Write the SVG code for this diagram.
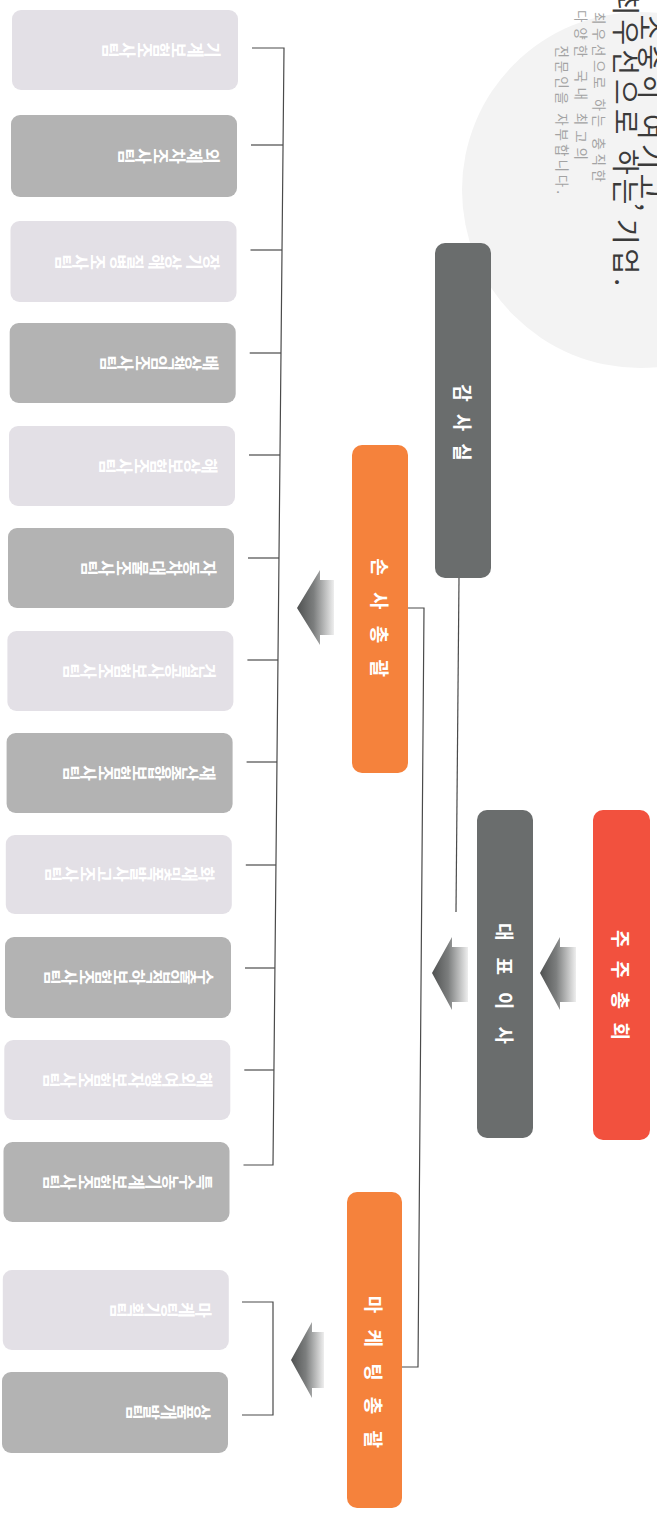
<svg xmlns="http://www.w3.org/2000/svg" width="657" height="1514" viewBox="0 0 657 1514">
<defs>
<linearGradient id="arr" x1="0" y1="0" x2="1" y2="0">
<stop offset="0" stop-color="#4f5151"/>
<stop offset="0.45" stop-color="#7c7e7e"/>
<stop offset="1" stop-color="#eeeeee"/>
</linearGradient>
<style>
text{font-family:"Noto Sans CJK KR","Noto Sans",sans-serif}
.lL{fill:#e3e0e6}
.lD{fill:#b3b3b3}
.lt{font-size:17px;font-weight:700;fill:#ffffff;writing-mode:vertical-rl}
.mt{font-size:19px;font-weight:700;fill:#ffffff}
.ln{stroke:#4a4a4a;stroke-width:1.2;fill:none}
.big{font-size:28px;fill:#3a3a3a;letter-spacing:4px}
.sm{font-size:13.5px;fill:#a3a3a3}
</style>
</defs>
<rect width="657" height="1514" fill="#ffffff"/>
<circle cx="640" cy="190" r="178" fill="#f3f3f3"/>
<g id="headline">
<text class="big" text-anchor="end" dominant-baseline="central" transform="translate(652,215) rotate(90)">사람을 소중히 여기고,</text>
<text class="big" text-anchor="end" dominant-baseline="central" transform="translate(627,290) rotate(90)">고객을 최우선으로 하는 기업.</text>
<text class="sm" dominant-baseline="central" textLength="170" lengthAdjust="spacing" transform="translate(600,12) rotate(90)">최우선으로 하는 충직한</text>
<text class="sm" dominant-baseline="central" textLength="150" lengthAdjust="spacing" transform="translate(582,10) rotate(90)">다양한 국내 최고의</text>
<text class="sm" text-anchor="end" dominant-baseline="central" letter-spacing="3" transform="translate(563,197) rotate(90)">전문인을 자부합니다.</text>
</g>
<g id="connectors">
<path class="ln" d="M252,48 H284 L273,1165 H243.5"/>
<path class="ln" d="M251,145 H283"/>
<path class="ln" d="M250.5,250 H282"/>
<path class="ln" d="M249.7,353 H281"/>
<path class="ln" d="M249,455 H280"/>
<path class="ln" d="M248,558 H279"/>
<path class="ln" d="M247.4,660 H278"/>
<path class="ln" d="M246.6,762 H277"/>
<path class="ln" d="M245.8,865 H275.9"/>
<path class="ln" d="M245,968 H274.9"/>
<path class="ln" d="M244.3,1070 H273.9"/>
<path class="ln" d="M242,1302 H273 V1415 H242"/>
<path class="ln" d="M408,608 H424 L418,1367 H402"/>
<path class="ln" d="M459,578 L456,912"/>
<polygon fill="url(#arr)" points="297,608 320,570 320,580 334,580 334,635 320,635 320,645"/>
<polygon fill="url(#arr)" points="432,973 452,937 452,947 468,947 468,1002 452,1002 452,1010"/>
<polygon fill="url(#arr)" points="540,973 560,937 560,947 576,947 576,1002 560,1002 560,1010"/>
<polygon fill="url(#arr)" points="291,1360 312,1322 312,1332 324,1332 324,1388 312,1388 312,1398"/>
</g>
<g id="n-shareholders"><rect x="593" y="810" width="57" height="330" rx="10" fill="#f2513e"/><text class="mt" text-anchor="middle" dominant-baseline="central" letter-spacing="13.3" transform="translate(621.5,991.6) rotate(90)">주주총회</text></g>
<g id="n-ceo"><rect x="477" y="810" width="56" height="328" rx="10" fill="#6a6d6d"/><text class="mt" text-anchor="middle" dominant-baseline="central" letter-spacing="17" transform="translate(505,992) rotate(90)">대표이사</text></g>
<g id="n-audit"><rect x="435" y="243" width="56" height="335" rx="10" fill="#6a6d6d"/><text class="mt" text-anchor="middle" dominant-baseline="central" letter-spacing="12" transform="translate(463,428.5) rotate(90)">감사실</text></g>
<g id="n-loss"><rect x="352" y="445" width="56" height="328" rx="10" fill="#f5823c"/><text class="mt" text-anchor="middle" dominant-baseline="central" letter-spacing="16.3" transform="translate(380,625.7) rotate(90)">손사총괄</text></g>
<g id="n-marketing"><rect x="347" y="1192" width="55" height="316" rx="10" fill="#f5823c"/><text class="mt" text-anchor="middle" dominant-baseline="central" letter-spacing="16.25" transform="translate(374.5,1380) rotate(90)">마케팅총괄</text></g>
<g id="leaf1"><rect class="lL" x="12" y="10" width="226" height="80" rx="9"/><text class="lt" transform="translate(221,50) rotate(90)">기계보험조사팀</text></g>
<g id="leaf2"><rect class="lD" x="11" y="115" width="226" height="82" rx="9"/><text class="lt" transform="translate(220,156) rotate(90)">외제차조사팀</text></g>
<g id="leaf3"><rect class="lL" x="10.5" y="221" width="226" height="81" rx="9"/><text class="lt" transform="translate(219.5,262) rotate(90)">장기 상해 질병 조사팀</text></g>
<g id="leaf4"><rect class="lD" x="9.7" y="323" width="226" height="80" rx="9"/><text class="lt" transform="translate(218.7,363) rotate(90)">배상책임조사팀</text></g>
<g id="leaf5"><rect class="lL" x="9" y="426" width="226" height="80" rx="9"/><text class="lt" transform="translate(218,466) rotate(90)">해상보험조사팀</text></g>
<g id="leaf6"><rect class="lD" x="8" y="528" width="226" height="80" rx="9"/><text class="lt" transform="translate(217,568) rotate(90)">자동차대물조사팀</text></g>
<g id="leaf7"><rect class="lL" x="7.4" y="631" width="226" height="80" rx="9"/><text class="lt" transform="translate(216.4,671) rotate(90)">건설공사보험조사팀</text></g>
<g id="leaf8"><rect class="lD" x="6.6" y="733" width="226" height="80" rx="9"/><text class="lt" transform="translate(215.6,773) rotate(90)">재산종합보험조사팀</text></g>
<g id="leaf9"><rect class="lL" x="5.8" y="835" width="226" height="79" rx="9"/><text class="lt" transform="translate(214.8,874) rotate(90)">화재및폭발사고조사팀</text></g>
<g id="leaf10"><rect class="lD" x="5" y="937" width="226" height="81" rx="9"/><text class="lt" transform="translate(214,977) rotate(90)">수출입적하보험조사팀</text></g>
<g id="leaf11"><rect class="lL" x="4.3" y="1040" width="226" height="80" rx="9"/><text class="lt" transform="translate(213.3,1080) rotate(90)">해외여행자보험조사팀</text></g>
<g id="leaf12"><rect class="lD" x="3.5" y="1142" width="226" height="80" rx="9"/><text class="lt" transform="translate(212.5,1182) rotate(90)">특수농기계보험조사팀</text></g>
<g id="leaf13"><rect class="lL" x="2.8" y="1270" width="226" height="80" rx="9"/><text class="lt" transform="translate(212,1310) rotate(90)">마케팅기획팀</text></g>
<g id="leaf14"><rect class="lD" x="2" y="1372" width="226" height="81" rx="9"/><text class="lt" transform="translate(211,1412) rotate(90)">상품개발팀</text></g>
</svg>
